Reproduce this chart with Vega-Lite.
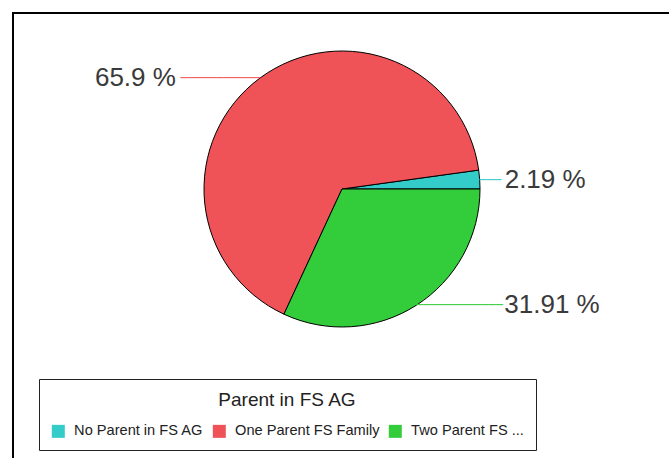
{
  "$schema": "https://vega.github.io/schema/vega-lite/v6.json",
  "width": 658,
  "height": 460,
  "autosize": {"type": "none"},
  "padding": {"left": 13, "top": 13, "right": 0, "bottom": 0},
  "background": "white",
  "view": {"stroke": "#000000", "strokeWidth": 2},
  "data": {
    "values": [
      {"category": "No Parent in FS AG", "pct": 2.19, "label": "2.19 %"},
      {"category": "One Parent FS Family", "pct": 65.9, "label": "65.9 %"},
      {"category": "Two Parent FS Family", "pct": 31.91, "label": "31.91 %"}
    ]
  },
  "encoding": {
    "theta": {"field": "pct", "type": "quantitative", "stack": true, "scale": {"range": [1.5708, 7.854]}},
    "order": {"field": "category", "sort": "descending"}
  },
  "layer": [
    {
      "mark": {"type": "arc", "outerRadius": 138, "stroke": "#000000", "strokeWidth": 1, "yOffset": -54},
      "encoding": {
        "color": {
          "field": "category",
          "type": "nominal",
          "scale": {
            "domain": ["No Parent in FS AG", "One Parent FS Family", "Two Parent FS Family"],
            "range": ["#33CCC8", "#EF5257", "#33CC3A"]
          },
          "legend": {
            "orient": "none",
            "legendX": 26,
            "legendY": 366,
            "direction": "horizontal",
            "title": "Parent in FS AG",
            "titleAnchor": "middle",
            "titleFont": "Liberation Sans",
            "titleFontSize": 19,
            "titleFontWeight": "normal",
            "titleColor": "#222222",
            "titlePadding": 14,
            "labelFont": "Liberation Sans",
            "labelFontSize": 14.6,
            "labelColor": "#222222",
            "labelOffset": 8.5,
            "labelExpr": "datum.label == 'Two Parent FS Family' ? 'Two Parent FS ...' : datum.label",
            "symbolType": "square",
            "symbolSize": 169,
            "symbolStrokeWidth": 0,
            "columnPadding": 8,
            "padding": 12,
            "strokeColor": "#222222",
            "fillColor": "#ffffff"
          }
        }
      }
    },
    {
      "mark": {"type": "text", "radius": 138, "align": "left", "baseline": "middle", "font": "DejaVu Sans Mono", "fontSize": 12, "yOffset": -54},
      "encoding": {
        "color": {"field": "category", "type": "nominal"},
        "text": {
          "condition": [
            {"test": "datum.category === 'No Parent in FS AG'", "value": "───"},
            {"test": "datum.category === 'Two Parent FS Family'", "value": "────────────"}
          ],
          "value": ""
        }
      }
    },
    {
      "mark": {"type": "text", "radius": 138, "align": "right", "baseline": "middle", "font": "DejaVu Sans Mono", "fontSize": 12, "yOffset": -54},
      "encoding": {
        "color": {"field": "category", "type": "nominal"},
        "text": {
          "condition": {"test": "datum.category === 'One Parent FS Family'", "value": "───────────"},
          "value": ""
        }
      }
    },
    {
      "mark": {"type": "text", "radius": 138, "align": "right", "baseline": "middle", "font": "Liberation Sans", "fontSize": 26, "color": "#3a3a3a", "dx": -84, "yOffset": -54},
      "encoding": {
        "text": {"condition": {"test": "datum.category === 'One Parent FS Family'", "field": "label"}, "value": ""}
      }
    },
    {
      "mark": {"type": "text", "radius": 138, "align": "left", "baseline": "middle", "font": "Liberation Sans", "fontSize": 26, "color": "#3a3a3a", "dx": 25, "yOffset": -54},
      "encoding": {
        "text": {"condition": {"test": "datum.category === 'No Parent in FS AG'", "field": "label"}, "value": ""}
      }
    },
    {
      "mark": {"type": "text", "radius": 138, "align": "left", "baseline": "middle", "font": "Liberation Sans", "fontSize": 26, "color": "#3a3a3a", "dx": 88, "yOffset": -54},
      "encoding": {
        "text": {"condition": {"test": "datum.category === 'Two Parent FS Family'", "field": "label"}, "value": ""}
      }
    }
  ]
}
